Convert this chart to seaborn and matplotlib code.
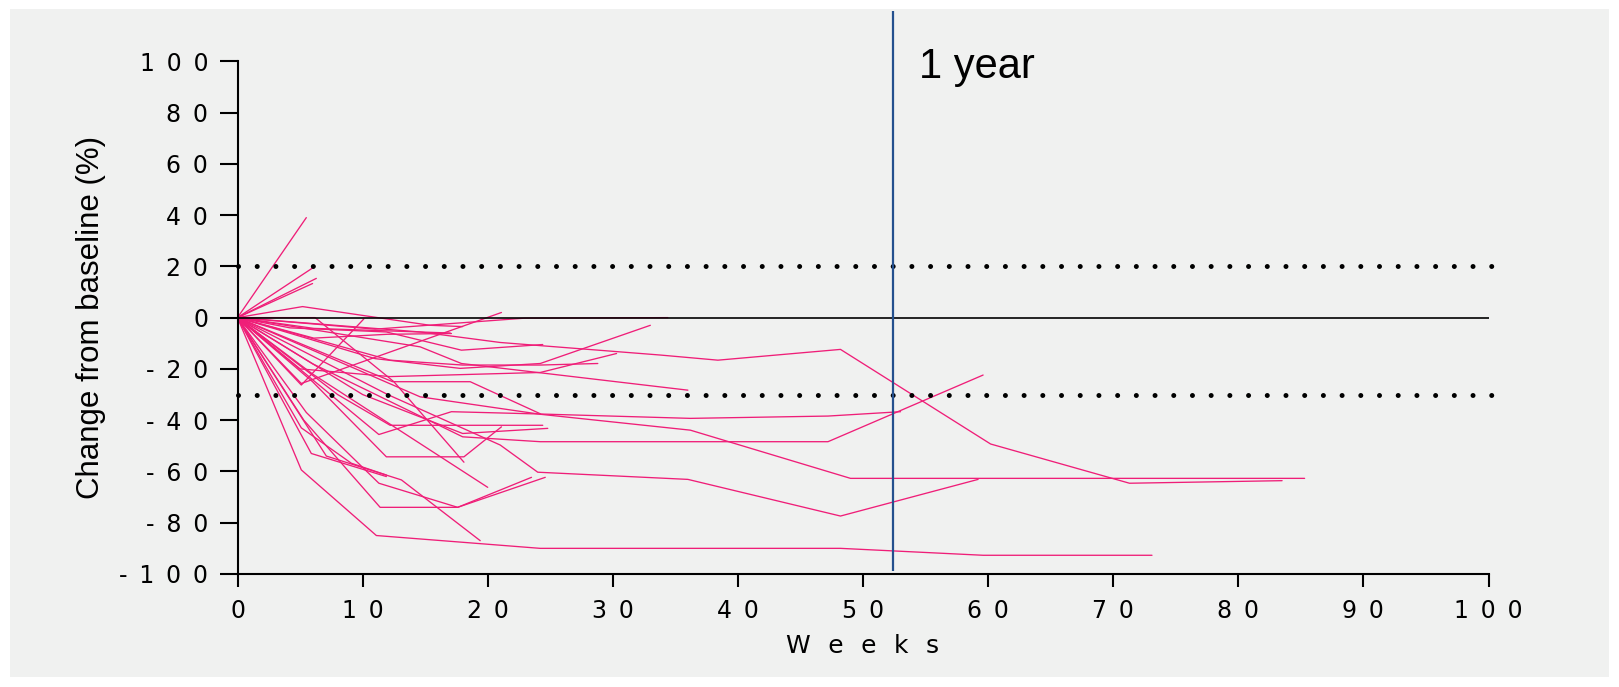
import pandas as pd
import matplotlib.pyplot as plt
import seaborn as sns
from matplotlib.patches import Rectangle

# weeks and % change from baseline, one list per patient
weeks = [
    [0, 5.5],
    [0, 6.2],
    [0, 6.3],
    [0, 6.0],
    [0, 5.2, 15.4, 18],
    [0, 11, 23, 34.4],
    [0, 5.1, 21.1],
    [0, 5.1, 10.1],
    [0, 11, 17.8, 24.2, 33],
    [0, 4.2, 11.9, 17.9, 24.4],
    [0, 14.6, 17.9, 36],
    [0, 14.6, 21, 33.8, 38.4, 48.2, 60.2, 71.3, 83.5],
    [0, 14.6, 24.2, 36.2, 49, 85.3],
    [0, 12, 21, 24, 36, 48.2, 59.2],
    [0, 12.4, 18.6, 24.2],
    [0, 8, 12.2, 24.4],
    [0, 10, 18, 24.8],
    [0, 6, 11.9, 18.1, 21.1],
    [0, 6.2, 12.5, 18.1],
    [0, 6, 20],
    [0, 5, 12.2, 24.2, 30.3],
    [0, 12.2, 18, 24.2, 28.8],
    [0, 11.3, 17.1, 24.2, 36.2, 47.2, 53],
    [0, 6, 18, 24.2, 47.2, 59.6],
    [0, 5.1, 11.1, 24.2, 48.2, 59.6, 73.1],
    [0, 7.1, 13.1, 19.4],
    [0, 5.3, 11.4, 17.6, 23.5],
    [0, 5.5, 11.3, 17.6, 24.6],
    [0, 5.9, 11.9],
    [0, 5.1, 9.1, 11.9],
    [0, 6.1, 17],
    [0, 6.1, 12, 17.1],
]
change = [
    [0, 39],
    [0, 20],
    [0, 15.3],
    [0, 13.3],
    [0, 4.3, -3, -3.5],
    [0, -4.5, -0.2, 0],
    [0, -25.7, 2.0],
    [0, -26.3, -0.5],
    [0, -16, -19.8, -17.9, -3],
    [0, -4, -5.6, -12.7, -10.5],
    [0, -11.4, -17.9, -28.3],
    [0, -5.6, -9.7, -14.6, -16.6, -12.4, -49.3, -64.6, -63.6],
    [0, -30.9, -37.7, -43.9, -62.7, -62.7],
    [0, -30, -49.7, -60.3, -63.1, -77.4, -63.1],
    [0, -25, -25, -37.5],
    [0, -30, -42, -42],
    [0, -30, -45.2, -43.2],
    [0, -25, -54.3, -54.3, -42.6],
    [0, 0, -25, -56.4],
    [0, -22, -66.2],
    [0, -20, -23, -21.4, -14],
    [0, -16.6, -18.5, -18.5, -17.9],
    [0, -45.6, -36.7, -37.6, -39.3, -38.4, -36.7],
    [0, -18, -46.5, -48.4, -48.4, -22.4],
    [0, -59.4, -85, -90, -90, -92.7, -92.7],
    [0, -54, -63.3, -87],
    [0, -40, -74, -74, -62.3],
    [0, -37, -64.6, -74, -62.3],
    [0, -53, -62],
    [0, -43, -56.8, -61.4],
    [0, -4.2, -6],
    [0, -8, -6.5, -6.2],
]
x_ticks = list(range(0, 101, 10))
y_ticks = list(range(-100, 101, 20))
upper_limit = 20
lower_limit = -30
one_year = 52.4

rows = []
for pid, (w, c) in enumerate(zip(weeks, change)):
    for wk, ch in zip(w, c):
        rows.append({'patient': pid, 'week': wk, 'change': ch})
df = pd.DataFrame(rows)

sns.set_style('ticks')
plt.rcParams['font.family'] = ['Liberation Sans', 'DejaVu Sans']
for key in ['text.color', 'axes.labelcolor', 'xtick.color', 'ytick.color', 'axes.edgecolor']:
    plt.rcParams[key] = 'black'

pink = '#ef1e78'
sp = '\u2002'


def spaced(n):
    return sp.join(str(n))


fig = plt.figure(figsize=(16.19, 6.87), dpi=100)
# light grey panel with a thin white border round it
fig.patches.append(Rectangle((0.0062, 0.0146), 0.9877, 0.9723, transform=fig.transFigure,
                             facecolor='#f0f1f0', edgecolor='none', zorder=-10))
ax = fig.add_axes([0.1467, 0.1645, 0.7727, 0.821])
ax.patch.set_visible(False)

sns.lineplot(data=df, x='week', y='change', units='patient', estimator=None, sort=False,
             color=pink, linewidth=0.95, legend=False, ax=ax)

ax.axhline(0, color='black', lw=1.2, zorder=3)
for lim in [upper_limit, lower_limit]:
    ax.plot([0, 100.5], [lim, lim], color='black', lw=3.6, ls=(0, (0.001, 3.74)),
            dash_capstyle='round', zorder=3, clip_on=False)
ax.vlines(one_year, -99, 119.5, color='#24508e', lw=1.6, zorder=4)
ax.text(54.5, 93.3, '1 year', fontsize=30, va='baseline', ha='left')

ax.set_xlim(0, 100)
ax.set_ylim(-100, 120)
sns.despine(ax=ax)
ax.spines['left'].set_bounds(-100, 100)
for s in ['left', 'bottom']:
    ax.spines[s].set_linewidth(1.5)

ax.set_xticks(x_ticks)
ax.set_xticklabels([spaced(t) for t in x_ticks])
ax.set_yticks(y_ticks)
ax.set_yticklabels([spaced(t) for t in y_ticks])
ax.tick_params(axis='y', length=13, width=1.5, pad=8, labelsize=17)
ax.tick_params(axis='x', length=9, width=1.5, pad=9, labelsize=17)
for lbl in ax.get_xticklabels() + ax.get_yticklabels():
    lbl.set_fontfamily('DejaVu Sans')

ax.set_xlabel('\u2002\u2009'.join('Weeks'), fontsize=18, family='DejaVu Sans', va='center')
ax.xaxis.set_label_coords(0.5, -0.128)
ax.set_ylabel('Change from baseline (%)', fontsize=22.5, va='center')
ax.yaxis.set_label_coords(-0.117, 0.4545)

fig.savefig('out.png', dpi=100)
